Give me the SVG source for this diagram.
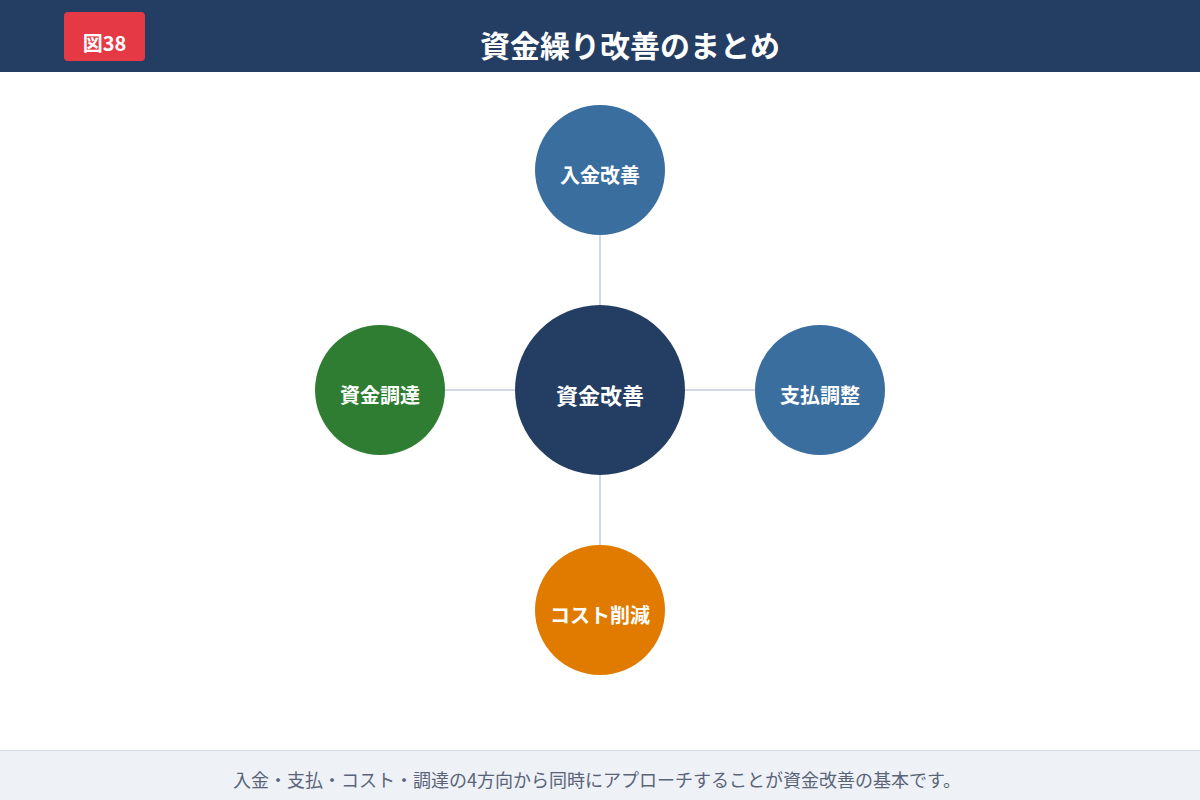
<svg xmlns="http://www.w3.org/2000/svg" width="1200" height="800" viewBox="0 0 1200 800">
<style>
text{font-family:"Noto Sans CJK JP","Noto Sans",sans-serif}
.lbl{fill:#fff;font-weight:700;font-size:20px;text-anchor:middle}
.conn{stroke:#d3d9e4;stroke-width:2}
</style>
<rect x="0" y="0" width="1200" height="800" fill="#fff"/>
<g id="header">
<rect x="0" y="0" width="1200" height="72" fill="#243d62"/>
<rect x="64" y="12" width="81" height="49" rx="4" fill="#e63946"/>
<text x="104.5" y="51" fill="#fff" font-size="20" font-weight="700" text-anchor="middle">図38</text>
<text x="630" y="57" fill="#fff" font-size="30" font-weight="700" text-anchor="middle">資金繰り改善のまとめ</text>
</g>
<g id="connectors">
<line class="conn" x1="600" y1="390" x2="600" y2="170"/>
<line class="conn" x1="600" y1="390" x2="380" y2="390"/>
<line class="conn" x1="600" y1="390" x2="820" y2="390"/>
<line class="conn" x1="600" y1="390" x2="600" y2="610"/>
</g>
<g id="node-top"><circle cx="600" cy="170" r="65" fill="#3a6e9f"/><text class="lbl" x="600" y="183">入金改善</text></g>
<g id="node-left"><circle cx="380" cy="390" r="65" fill="#2e7d32"/><text class="lbl" x="380" y="403">資金調達</text></g>
<g id="node-right"><circle cx="820" cy="390" r="65" fill="#3a6e9f"/><text class="lbl" x="820" y="403">支払調整</text></g>
<g id="node-bottom"><circle cx="600" cy="610" r="65" fill="#e07b00"/><text class="lbl" x="600" y="623">コスト削減</text></g>
<g id="node-center"><circle cx="600" cy="390" r="85" fill="#243d62"/><text class="lbl" x="600" y="404" font-size="22" style="font-size:22px">資金改善</text></g>
<g id="footer">
<rect x="0" y="750" width="1200" height="50" fill="#eef1f6"/>
<line x1="0" y1="750.5" x2="1200" y2="750.5" stroke="#d5dbe5" stroke-width="1"/>
<text x="597" y="787" fill="#5a6478" font-size="18" text-anchor="middle">入金・支払・コスト・調達の4方向から同時にアプローチすることが資金改善の基本です。</text>
</g>
</svg>
